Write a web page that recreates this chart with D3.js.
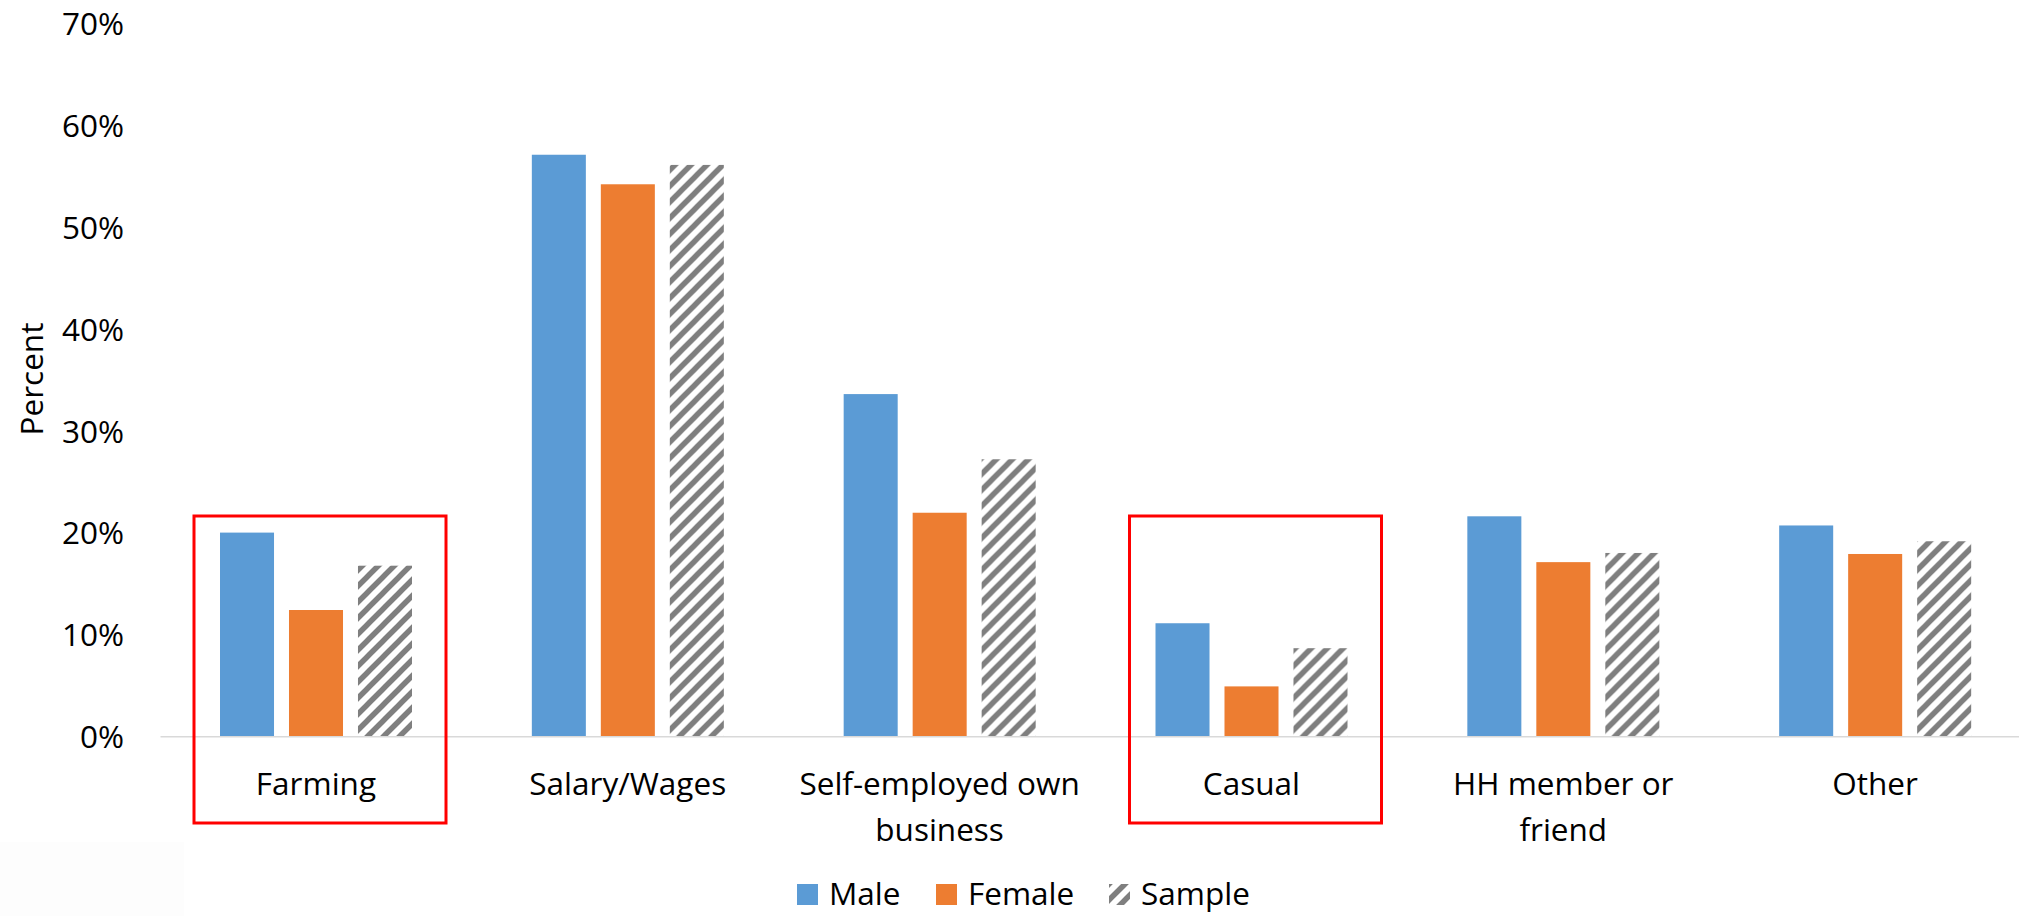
<!DOCTYPE html>
<html>
<head>
<meta charset="utf-8">
<script src="https://cdn.jsdelivr.net/npm/d3@7"></script>
<style>
  body { margin: 0; background: #fff; }
  #chart { width: 2019px; height: 916px; }
  text { font-family: "Open Sans", sans-serif; fill: #000; }
</style>
</head>
<body>
<div id="chart"></div>
<script>
// Data (percent)
const categories = ['Farming', 'Salary/Wages', 'Self-employed own business', 'Casual', 'HH member or friend', 'Other'];
const series = ['Male', 'Female', 'Sample'];
const male = [20.0, 57.1, 33.6, 11.1, 21.6, 20.7];
const female = [12.4, 54.2, 21.95, 4.9, 17.1, 17.9];
const sample = [16.75, 56.1, 27.2, 8.65, 18.0, 19.15];
const yTicks = [0, 10, 20, 30, 40, 50, 60, 70];
const highlighted = ['Farming', 'Casual'];

const values = { Male: male, Female: female, Sample: sample };
const colors = { Male: '#5B9BD5', Female: '#ED7D31', Sample: 'url(#hatch)' };

const width = 2019, height = 916;
const fontSize = 31.5;

const svg = d3.select('#chart').append('svg')
  .attr('width', width)
  .attr('height', height);

// Hatch pattern for the Sample series
const defs = svg.append('defs');
const pattern = defs.append('pattern')
  .attr('id', 'hatch')
  .attr('patternUnits', 'userSpaceOnUse')
  .attr('width', 16)
  .attr('height', 16);
pattern.append('rect').attr('width', 16).attr('height', 16).attr('fill', '#fff');
pattern.append('path')
  .attr('d', 'M-4,4 l8,-8 M0,16 l16,-16 M12,20 l8,-8')
  .attr('stroke', '#7F7F7F')
  .attr('stroke-width', 5.5);

// faint panel in the bottom-left corner
svg.append('rect')
  .attr('x', 0).attr('y', 842)
  .attr('width', 184).attr('height', 74)
  .attr('fill', '#fdfdfd');

// Scales
const x0 = d3.scaleBand()
  .domain(categories)
  .range([160, 2031])
  .padding(0);
const x1 = d3.scaleBand()
  .domain(series)
  .range([60, 252])
  .paddingInner(0.217);
const y = d3.scaleLinear()
  .domain([0, 70])
  .range([736.3, 23.35]);

// Y axis (labels only)
const yAxis = svg.append('g')
  .attr('transform', 'translate(160,0)')
  .call(d3.axisLeft(y).tickValues(yTicks).tickFormat(d => d + '%').tickSize(0).tickPadding(36));
yAxis.select('.domain').remove();
yAxis.selectAll('text')
  .attr('font-size', fontSize)
  .attr('dy', '0.357em')
  .style('font-family', '"Open Sans", sans-serif')
  .style('fill', '#000');

// Y axis title
svg.append('text')
  .attr('transform', 'translate(43,379) rotate(-90)')
  .attr('text-anchor', 'middle')
  .attr('font-size', fontSize)
  .text('Percent');

// Bars
const groups = svg.append('g')
  .selectAll('g')
  .data(categories)
  .join('g')
  .attr('transform', d => `translate(${x0(d)},0)`);

groups.selectAll('rect')
  .data((c, i) => series.map(s => ({ key: s, value: values[s][i] })))
  .join('rect')
  .attr('x', d => x1(d.key))
  .attr('width', x1.bandwidth())
  .attr('y', d => y(d.value))
  .attr('height', d => y(0) - y(d.value))
  .attr('fill', d => colors[d.key]);

// X axis with wrapped labels
const xAxis = svg.append('g')
  .attr('transform', `translate(0,${y(0)})`)
  .call(d3.axisBottom(x0).tickSize(0));
xAxis.select('.domain')
  .attr('stroke', '#D9D9D9')
  .attr('stroke-width', 1.5);
xAxis.selectAll('.tick text')
  .attr('font-size', fontSize)
  .style('font-family', '"Open Sans", sans-serif')
  .style('fill', '#000')
  .call(wrap, 282);

function wrap(texts, maxWidth) {
  texts.each(function() {
    const text = d3.select(this);
    const words = text.text().split(' ');
    text.text(null).attr('y', 0).attr('dy', null);
    let lines = [[]];
    let tspan = text.append('tspan').attr('x', 0);
    words.forEach(w => {
      const cur = lines[lines.length - 1];
      cur.push(w);
      tspan.text(cur.join(' '));
      if (tspan.node().getComputedTextLength() > maxWidth && cur.length > 1) {
        cur.pop();
        tspan.text(cur.join(' '));
        lines.push([w]);
        tspan = text.append('tspan').attr('x', 0).text(w);
      }
    });
    text.selectAll('tspan').attr('y', (d, i) => 59 + i * 46);
  });
}

// Red highlight boxes
svg.append('g')
  .selectAll('rect')
  .data(highlighted)
  .join('rect')
  .attr('x', d => x0(d) + 34)
  .attr('y', 516)
  .attr('width', 252)
  .attr('height', 307)
  .attr('fill', 'none')
  .attr('stroke', '#FF0000')
  .attr('stroke-width', 3);

// Legend
const legendX = { Male: 797, Female: 936, Sample: 1109 };
const legend = svg.append('g')
  .selectAll('g')
  .data(series)
  .join('g')
  .attr('transform', d => `translate(${legendX[d]},884)`);
legend.append('rect')
  .attr('width', 21)
  .attr('height', 21)
  .attr('fill', d => colors[d]);
legend.append('text')
  .attr('x', 32)
  .attr('y', 21)
  .attr('font-size', fontSize)
  .text(d => d);
</script>
</body>
</html>
